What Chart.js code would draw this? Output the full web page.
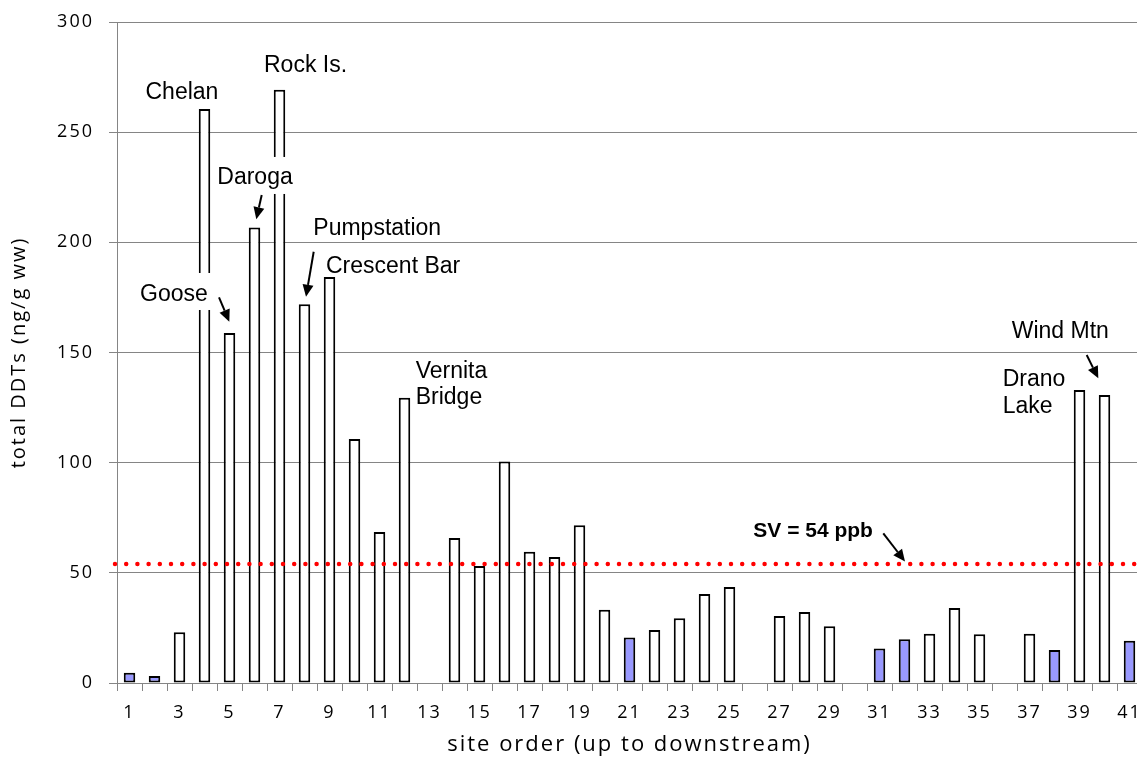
<!DOCTYPE html>
<html>
<head>
<meta charset="utf-8">
<script src="https://cdn.jsdelivr.net/npm/chart.js@4/dist/chart.umd.min.js"></script>
<style>
  html, body { margin: 0; padding: 0; background: #ffffff; overflow: hidden; }
  #wrap { position: absolute; left: 0; top: 0; width: 1160px; height: 760px; }
</style>
</head>
<body>
<div id="wrap"><canvas id="chart" width="1160" height="760"></canvas></div>
<script>
// Site numbers, upstream to downstream
const sites = ['1','2','3','4','5','6','7','8','9','10','11','12','13','14','15','16','17','18','19','20',
               '21','22','23','24','25','26','27','28','29','30','31','32','33','34','35','36','37','38','39','40','41'];

// Total DDTs per site (ng/g wet weight); null = no sample
const totalDDT = [4.7, 3.2, 23.0, 260.5, 158.9, 206.7, 269.3, 171.9, 184.3, 110.7,
                  68.5, 129.5, null, 65.8, 53.1, 100.5, 59.6, 57.2, 71.6, 33.3,
                  20.7, 24.1, 29.4, 40.4, 43.6, null, 30.4, 32.2, 25.7, null,
                  15.7, 19.8, 22.4, 34.0, 22.1, null, 22.3, 15.0, 133.0, 130.7, 19.2];

// Sites shown with the blue fill
const blueSites = ['1','2','21','31','32','38','41'];

// Screening value (ppb)
const screeningValue = 54;

// Y axis tick values
const yTicks = [0, 50, 100, 150, 200, 250, 300];

// Site name labels: text lines, the site they point at, and layout relative to that bar's top
const siteLabels = [
  { lines: ['Chelan'],          site: '4',  dx: -59,   dy: -9.7 },
  { lines: ['Rock Is.'],        site: '7',  dx: -15.5, dy: -17.9 },
  { lines: ['Daroga'],          site: '6',  dx: -37.2, dy: -43.6, box: [-3.5, -27, 79, 37],
    arrow: [7.2, -32.6, 1.8, -8.3] },
  { lines: ['Goose'],           site: '5',  dx: -89.5, dy: -32.2, box: [-3, -27.7, 75, 37],
    arrow: [-10.5, -35.6, -0.2, -11.2] },
  { lines: ['Pumpstation'],     site: '8',  dx: 8.8,   dy: -69.2, arrow: [9.2, -52.5, 1.5, -7.5] },
  { lines: ['Crescent Bar'],    site: '9',  dx: -3.5,  dy: -3.6 },
  { lines: ['Vernita', 'Bridge'], site: '12', dx: 11.2, dy: -20 },
  { lines: ['Drano', 'Lake'],   site: '39', dx: -76.8, dy: -4 },
  { lines: ['Wind Mtn'],        site: '40', dx: -92.8, dy: -56.7, arrow: [-17.8, -40, -6.2, -16.7] }
];

const GRID = '#858585';
const AXIS_SPACING = '2px';
const tickFont = { family: '"Open Sans", sans-serif', size: 18 };
const yTitleFont = { family: '"Open Sans", sans-serif', size: 20 };
const xTitleFont = { family: '"Open Sans", sans-serif', size: 22 };
const labelFont = '23px "Liberation Sans", Arial, sans-serif';

function drawArrow(ctx, x1, y1, x2, y2) {
  const ang = Math.atan2(y2 - y1, x2 - x1);
  const headLen = 12, headHalf = 5.5;
  const bx = x2 - headLen * Math.cos(ang), by = y2 - headLen * Math.sin(ang);
  ctx.save();
  ctx.strokeStyle = '#000';
  ctx.fillStyle = '#000';
  ctx.lineWidth = 2;
  ctx.beginPath();
  ctx.moveTo(x1, y1);
  ctx.lineTo(bx, by);
  ctx.stroke();
  ctx.beginPath();
  ctx.moveTo(x2, y2);
  ctx.lineTo(bx + headHalf * Math.sin(ang), by - headHalf * Math.cos(ang));
  ctx.lineTo(bx - headHalf * Math.sin(ang), by + headHalf * Math.cos(ang));
  ctx.closePath();
  ctx.fill();
  ctx.restore();
}

// Wider letter spacing for the axis ticks and titles
const spacingPlugin = {
  id: 'axisSpacing',
  beforeLayout(chart) { chart.ctx.letterSpacing = AXIS_SPACING; },
  beforeDraw(chart) { chart.ctx.letterSpacing = AXIS_SPACING; }
};

// Dotted screening-value line plus site name labels and arrows
const overlayPlugin = {
  id: 'overlay',
  afterDatasetsDraw(chart) {
    const ctx = chart.ctx;
    const xs = chart.scales.x, ys = chart.scales.y;
    const area = chart.chartArea;
    ctx.save();
    ctx.letterSpacing = '0px';

    // SV line
    const svY = ys.getPixelForValue(screeningValue);
    ctx.save();
    ctx.strokeStyle = '#ff0000';
    ctx.lineWidth = 4.5;
    ctx.lineCap = 'round';
    ctx.setLineDash([0, 11.2]);
    ctx.beginPath();
    ctx.moveTo(area.left - 2, svY);
    ctx.lineTo(chart.width, svY);
    ctx.stroke();
    ctx.restore();

    // SV label with arrow, pointing at the line above site 32
    const svX = xs.getPixelForValue(sites.indexOf('32'));
    ctx.save();
    ctx.font = 'bold 21px "Liberation Sans", Arial, sans-serif';
    ctx.fillStyle = '#000';
    ctx.textBaseline = 'alphabetic';
    ctx.textAlign = 'left';
    ctx.fillText('SV = ' + screeningValue + ' ppb', svX - 151.2, svY - 27.3);
    ctx.restore();
    drawArrow(ctx, svX - 21.2, svY - 30.7, svX + 0.5, svY - 2.5);

    // Site labels
    siteLabels.forEach(lab => {
      const i = sites.indexOf(lab.site);
      const cx = xs.getPixelForValue(i);
      const top = ys.getPixelForValue(totalDDT[i]);
      const lx = cx + lab.dx, ly = top + lab.dy;
      ctx.save();
      if (lab.box) {
        ctx.fillStyle = '#ffffff';
        ctx.fillRect(lx + lab.box[0], ly + lab.box[1], lab.box[2], lab.box[3]);
      }
      ctx.font = labelFont;
      ctx.fillStyle = '#000';
      ctx.textAlign = 'left';
      ctx.textBaseline = 'alphabetic';
      lab.lines.forEach((t, k) => ctx.fillText(t, lx, ly + k * 26.7));
      ctx.restore();
      if (lab.arrow) {
        drawArrow(ctx, cx + lab.arrow[0], top + lab.arrow[1], cx + lab.arrow[2], top + lab.arrow[3]);
      }
    });
    ctx.restore();
  }
};

new Chart(document.getElementById('chart'), {
  type: 'bar',
  data: {
    labels: sites,
    datasets: [{
      label: 'total DDTs',
      data: totalDDT,
      backgroundColor: sites.map(s => blueSites.includes(s) ? '#9999ff' : '#ffffff'),
      borderColor: '#000000',
      borderWidth: 2,
      borderSkipped: false,
      barPercentage: 0.46,
      categoryPercentage: 1.0
    }]
  },
  options: {
    responsive: false,
    animation: false,
    devicePixelRatio: 1,
    layout: { padding: { top: 22, right: 18, left: 0, bottom: 0 } },
    plugins: { legend: { display: false }, tooltip: { enabled: false } },
    scales: {
      x: {
        offset: true,
        grid: { display: true, drawOnChartArea: false, drawTicks: true, tickLength: 8, color: GRID, offset: true },
        border: { color: GRID, width: 1 },
        ticks: {
          autoSkip: false, maxRotation: 0, minRotation: 0, padding: 11,
          color: '#000', font: tickFont,
          callback: (v, idx) => (idx % 2 === 0 ? sites[idx] : '')
        },
        title: { display: true, text: 'site order (up to downstream)', color: '#000', font: xTitleFont,
                 padding: { top: 0, bottom: 2 } },
        afterFit: s => { s.height = 77; s.paddingLeft = 0; s.paddingRight = 0; }
      },
      y: {
        min: 0, max: 300,
        grid: { color: GRID, tickLength: 8, lineWidth: 1 },
        border: { color: GRID, width: 1 },
        afterBuildTicks: s => { s.ticks = yTicks.map(v => ({ value: v })); },
        ticks: { color: '#000', font: tickFont, padding: 15 },
        title: { display: true, text: 'total DDTs (ng/g ww)', color: '#000', font: yTitleFont,
                 padding: { top: 7, bottom: 0 } },
        afterFit: s => { s.width = 117; s.paddingTop = 0; s.paddingBottom = 0; }
      }
    }
  },
  plugins: [spacingPlugin, overlayPlugin]
});
</script>
</body>
</html>
